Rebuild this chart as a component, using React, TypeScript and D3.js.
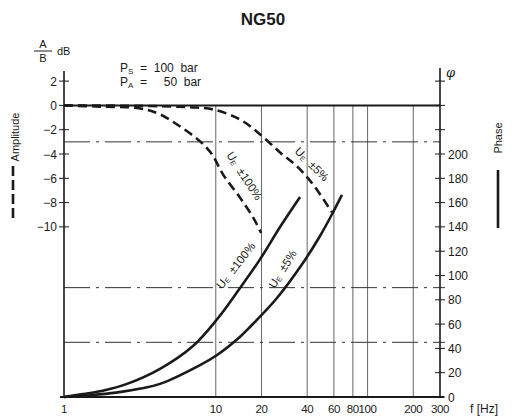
import React from "react";
import * as d3 from "d3";

const xTicks = [1, 10, 20, 40, 60, 80, 100, 200, 300];
const gridFreqs = [10, 20, 40, 60, 80, 100, 200];
const dbTicks = [2, 0, -2, -4, -6, -8, -10];
const phaseTicks = [0, 20, 40, 60, 80, 100, 120, 140, 160, 180, 200];
const phaseMinorTicks = [220, 240, 260];

// Amplitude U_E ±100%
const amp100F = [1, 1.73, 3.17, 4.29, 5.81, 7.87, 9.44, 11.15, 14.4, 17.6, 19.9];
const amp100D = [0, -0.1, -0.25, -0.74, -1.73, -2.96, -4.03, -5.68, -7.57, -9.22, -10.5];
// Amplitude U_E ±5%
const amp5F = [1, 3.68, 6.76, 9.59, 14.4, 19.6, 26.5, 34.3, 43.7, 58.3];
const amp5D = [0, -0.05, -0.15, -0.33, -1.15, -2.39, -3.87, -5.02, -6.5, -8.8];
// Phase U_E ±100%
const ph100F = [1, 1.3, 1.8, 2.6, 4.29, 7.08, 10.2, 14.4, 19.6, 26.5, 35.9];
const ph100P = [0, 2.2, 5.2, 10.8, 23.2, 42.0, 64.0, 89.5, 113.5, 139.9, 164.6];
// Phase U_E ±5%
const ph5F = [1, 1.5, 2.2, 3.2, 4.29, 7.87, 10.2, 14.4, 16.8, 25.3, 37.5, 48.6, 59.2, 67.8];
const ph5P = [0, 1.5, 3.6, 7.0, 10.8, 26.3, 34.6, 49.4, 57.6, 81.5, 110.3, 132.5, 152.0, 166.3];

const W = 519;
const H = 418;

export default function App() {
  const x = d3.scaleLog().domain([1, 300]).range([64, 440]);
  const yP = d3.scaleLinear().domain([0, 200]).range([397, 154]);
  const yD = d3.scaleLinear().domain([0, -10]).range([yP(240), yP(140)]);

  const line = d3.line<[number, number]>().curve(d3.curveCatmullRom.alpha(0.5));
  const ampPath = (fs: number[], ds: number[]) =>
    line(fs.map((f, i) => [x(f), yD(ds[i])]) as [number, number][]) || "";
  const phPath = (fs: number[], ps: number[]) =>
    line(fs.map((f, i) => [x(f), yP(ps[i])]) as [number, number][]) || "";

  const font = "'Liberation Sans', Arial, sans-serif";
  const ink = "#1a1a1a";
  const x0 = x(1);
  const x1 = x(300);
  const yTop0 = yD(0);
  const yBot = yP(0);
  const dashDot = "26,6,3,6";

  const ueLabel = (cx: number, cy: number, ang: number, txt: string) => (
    <text
      transform={`translate(${cx},${cy}) rotate(${ang})`}
      textAnchor="middle"
      fontSize={11.5}
      fontFamily={font}
      fill={ink}
      style={{ whiteSpace: "pre" }}
    >
      U<tspan fontSize={7} dy={1}>E</tspan>
      <tspan dy={-1}>{"  " + txt}</tspan>
    </text>
  );

  return (
    <svg width={W} height={H} style={{ position: "absolute", left: 0, top: 0 }}>
      <rect width={W} height={H} fill="#fff" />
      <text x={263} y={25} textAnchor="middle" fontSize={17} fontWeight="bold" fontFamily={font} fill={ink}>
        NG50
      </text>

      {/* vertical grid lines */}
      {gridFreqs.map((f) => (
        <line key={f} x1={x(f)} x2={x(f)} y1={yTop0} y2={yBot} stroke="#555" strokeWidth={0.9} />
      ))}

      {/* dash-dot reference lines */}
      <line x1={x0} x2={x1} y1={yD(-3)} y2={yD(-3)} stroke="#333" strokeWidth={1} strokeDasharray={dashDot} />
      <line x1={x0} x2={x1 + 5} y1={yP(90)} y2={yP(90)} stroke="#333" strokeWidth={1} strokeDasharray={dashDot} />
      <line x1={x0} x2={x1 + 5} y1={yP(45)} y2={yP(45)} stroke="#333" strokeWidth={1} strokeDasharray={dashDot} />

      {/* 0 dB line */}
      <line x1={x0} x2={x1} y1={yTop0} y2={yTop0} stroke={ink} strokeWidth={2} />
      {/* x axis */}
      <line x1={x0 - 4} x2={x1 + 4} y1={yBot} y2={yBot} stroke={ink} strokeWidth={2} />

      {/* left axis */}
      <line x1={x0} x2={x0} y1={71} y2={yBot} stroke={ink} strokeWidth={1.6} />
      {dbTicks.map((d) => (
        <g key={d}>
          <line x1={x0 - 5} x2={x0 + 5} y1={yD(d)} y2={yD(d)} stroke={ink} strokeWidth={1} />
          <text x={x0 - 7} y={yD(d) + 4.5} textAnchor="end" fontSize={12} fontFamily={font} fill={ink}>
            {d < 0 ? "\u2212" + Math.abs(d) : String(d)}
          </text>
        </g>
      ))}

      {/* right axis */}
      <line x1={x1} x2={x1} y1={68} y2={yBot} stroke={ink} strokeWidth={1.6} />
      {phaseTicks.map((p) => (
        <g key={p}>
          <line x1={x1 - 5} x2={x1 + 5} y1={yP(p)} y2={yP(p)} stroke={ink} strokeWidth={1} />
          <text x={x1 + 8} y={yP(p) + 4.5} fontSize={12} fontFamily={font} fill={ink}>
            {p}
          </text>
        </g>
      ))}
      {phaseMinorTicks.map((p) => (
        <line key={p} x1={x1 - 5} x2={x1 + 5} y1={yP(p)} y2={yP(p)} stroke={ink} strokeWidth={1} />
      ))}
      <text x={446} y={77} fontSize={13} fontStyle="italic" fontFamily="'DejaVu Serif', serif" fill={ink}>
        φ
      </text>

      {/* x tick labels */}
      {xTicks.map((f) => (
        <text key={f} x={x(f)} y={413} textAnchor="middle" fontSize={11.5} letterSpacing={-0.4} fontFamily={font} fill={ink}>
          {f}
        </text>
      ))}
      <text x={470} y={413} fontSize={12} fontFamily={font} fill={ink}>
        f [Hz]
      </text>

      {/* curves */}
      <path d={ampPath(amp100F, amp100D)} fill="none" stroke={ink} strokeWidth={2.6} strokeDasharray="9,5" />
      <path d={ampPath(amp5F, amp5D)} fill="none" stroke={ink} strokeWidth={2.6} strokeDasharray="9,5" />
      <path d={phPath(ph100F, ph100P)} fill="none" stroke={ink} strokeWidth={2.6} />
      <path d={phPath(ph5F, ph5P)} fill="none" stroke={ink} strokeWidth={2.6} />

      {ueLabel(241, 178, 57, "\u00b1100%")}
      {ueLabel(309, 167, 45, "\u00b15%")}
      {ueLabel(239, 268, -52, "\u00b1100%")}
      {ueLabel(286, 271, -58, "\u00b15%")}

      {/* units & params */}
      <text x={43} y={48} textAnchor="middle" fontSize={11} fontFamily={font} fill={ink}>A</text>
      <line x1={34} x2={52} y1={51} y2={51} stroke={ink} strokeWidth={1} />
      <text x={43} y={62} textAnchor="middle" fontSize={11} fontFamily={font} fill={ink}>B</text>
      <text x={57} y={55} fontSize={11} fontFamily={font} fill={ink}>dB</text>

      <text x={120} y={72} fontSize={12} fontFamily={font} fill={ink} style={{ whiteSpace: "pre" }}>
        P<tspan fontSize={8} dy={2}>S</tspan>
        <tspan dy={-2}>{"  =  100  bar"}</tspan>
      </text>
      <text x={120} y={86} fontSize={12} fontFamily={font} fill={ink} style={{ whiteSpace: "pre" }}>
        P<tspan fontSize={8} dy={2}>A</tspan>
        <tspan dy={-2}>{"  =     50  bar"}</tspan>
      </text>

      {/* legends */}
      <text transform="translate(19,137) rotate(-90)" textAnchor="middle" fontSize={11} fontFamily={font} fill={ink}>
        Amplitude
      </text>
      <line x1={13} x2={13} y1={166} y2={218} stroke={ink} strokeWidth={2.6} strokeDasharray="10,4" />
      <text transform="translate(502,138) rotate(-90)" textAnchor="middle" fontSize={11} fontFamily={font} fill={ink}>
        Phase
      </text>
      <line x1={498} x2={498} y1={170} y2={228} stroke={ink} strokeWidth={2.6} />
    </svg>
  );
}
